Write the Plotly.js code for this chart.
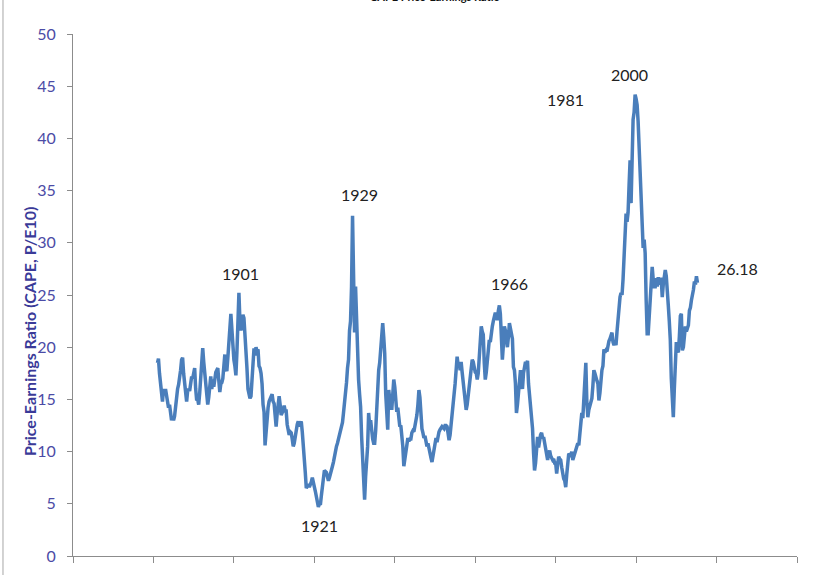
<!DOCTYPE html>
<html>
<head>
<meta charset="utf-8">
<script src="https://cdn.plot.ly/plotly-3.0.1.min.js"></script>
<style>
html,body{margin:0;padding:0;background:#fff;}
#chart{width:825px;height:575px;}
</style>
</head>
<body>
<div id="chart"></div>
<script>
// Shiller CAPE, quarterly readings (Jan, Apr, Jul, Oct) starting 1881
const startYear = 1881;
const stepYears = 0.25;

const cape1881_1900 = [
  18.5, 18.9, 17.5, 16.5,
  15.5, 14.8, 16.0, 15.4,
  16.0, 15.2, 14.6, 14.2,
  14.5, 13.2, 13.0, 13.3,
  13.0, 13.4, 14.6, 15.6,
  16.0, 16.4, 17.0, 17.8,
  18.8, 19.0, 17.5, 16.3,
  15.5, 14.8, 15.8, 16.0,
  15.8, 16.4, 17.2, 17.0,
  17.6, 18.0, 16.0, 14.9,
  15.0, 14.5, 15.6, 16.8,
  18.5, 19.9, 18.6, 17.4,
  17.0, 15.5, 14.5, 15.2,
  16.3, 17.2, 16.0, 16.9,
  16.2, 17.0, 17.6, 17.8,
  18.0, 16.8, 15.7, 16.5,
  16.6, 17.0, 18.4, 19.3,
  18.0, 17.7, 19.0, 20.0,
  21.8, 23.2, 21.5, 20.8,
  18.8, 18.2, 17.3, 19.5
];
const cape1901_1920 = [
  22.0, 25.2, 22.5, 21.6,
  22.5, 23.1, 22.8, 21.5,
  20.2, 18.0, 16.0, 15.4,
  15.1, 15.3, 16.5, 18.5,
  19.9, 19.2, 20.0, 19.6,
  19.8, 18.2, 18.0, 17.5,
  16.5, 14.5, 13.8, 10.6,
  11.8, 13.5, 14.2, 14.8,
  15.0, 15.3, 15.5, 14.8,
  14.6, 13.5, 12.4, 13.6,
  14.2, 15.3, 14.5, 13.5,
  13.7, 14.2, 14.4, 13.9,
  13.9, 12.6, 12.2, 11.6,
  11.9, 11.8, 11.2, 10.5,
  10.8, 11.6, 12.2, 12.6,
  12.9, 12.4, 12.6, 12.9,
  11.9, 10.8, 9.5, 8.0,
  6.5, 6.7, 6.9, 6.6,
  6.8, 7.1, 7.5, 6.9,
  6.6, 6.2, 5.7, 5.3
];
const cape1921_1940 = [
  4.7, 5.0, 4.9, 5.8,
  6.7, 7.6, 8.2, 8.1,
  8.0, 7.6, 7.2, 7.5,
  7.8, 8.2, 8.6, 9.0,
  9.6, 10.1, 10.5, 10.8,
  11.2, 11.4, 11.8, 12.5,
  12.8, 13.7, 14.5, 15.5,
  16.6, 18.0, 18.8, 21.6,
  22.5, 25.8, 32.6, 27.0,
  21.4, 25.8, 22.0, 18.5,
  16.9, 15.5, 14.3, 11.5,
  9.2, 7.9, 5.4, 7.6,
  8.7, 10.5, 13.7, 12.5,
  13.0, 11.8, 11.2, 10.8,
  10.8, 12.0, 14.5, 16.5,
  17.8, 18.5, 19.5, 21.0,
  22.3, 21.0, 19.4, 15.5,
  13.5, 12.1, 15.9, 15.0,
  15.2, 14.0, 15.5, 16.9,
  16.2, 14.3, 13.8, 14.2
];
const cape1941_1960 = [
  13.2, 12.4, 12.5, 11.5,
  10.5, 8.6, 9.5, 10.0,
  10.6, 11.3, 11.0, 11.2,
  11.2, 11.8, 12.0, 11.9,
  12.4, 13.0, 13.5, 14.5,
  15.9, 15.2, 13.3, 12.2,
  11.8, 11.3, 11.5, 11.0,
  10.5, 10.8, 10.2, 9.8,
  9.4, 9.0, 9.5, 10.3,
  10.8, 11.3, 10.9, 11.6,
  11.9, 12.1, 12.3, 12.4,
  12.3, 12.2, 12.5, 12.5,
  12.4, 11.8, 11.1, 11.6,
  12.5, 13.5, 14.6, 15.6,
  16.5, 17.8, 19.1, 18.3,
  18.5, 17.8, 18.6, 17.6,
  16.5, 15.8, 14.3, 14.0,
  14.5, 15.4, 16.2, 17.3,
  18.1, 18.8, 18.6, 17.8,
  17.6, 17.5, 16.9, 17.5
];
const cape1961_1980 = [
  19.5, 21.0, 22.0, 21.5,
  21.2, 18.5, 16.9, 17.6,
  18.6, 19.8, 20.7, 20.5,
  21.5, 22.0, 22.5, 22.9,
  23.3, 23.0, 22.6, 23.5,
  24.0, 23.2, 20.5, 18.8,
  20.2, 22.0, 21.6, 20.5,
  20.0, 21.0, 22.3, 21.8,
  21.0, 20.8, 18.1, 17.8,
  16.5, 13.7, 14.5, 15.4,
  17.0, 17.8, 16.9, 16.0,
  17.5, 18.2, 18.6, 18.3,
  18.7, 16.5, 15.6, 14.5,
  13.5, 12.2, 9.9, 8.2,
  8.9, 10.5, 11.4, 10.4,
  11.2, 11.6, 11.8, 11.3,
  11.4, 10.8, 10.5, 9.8,
  9.2, 9.8, 10.1, 9.6,
  9.3, 9.2, 9.3, 8.9,
  8.9, 7.9, 8.8, 9.5
];
const cape1981_2000 = [
  9.3, 9.2, 8.5, 7.8,
  7.4, 7.2, 6.6, 7.8,
  8.8, 9.8, 9.7, 9.5,
  10.0, 9.2, 9.5, 9.8,
  10.0, 10.3, 10.8, 10.6,
  11.7, 13.0, 13.7, 13.2,
  14.9, 16.5, 18.5, 14.8,
  13.3, 14.0, 14.3, 14.6,
  15.1, 16.3, 17.8, 17.5,
  17.0, 16.8, 16.5, 14.9,
  15.6, 17.5, 17.8, 18.2,
  19.8, 19.5, 19.7, 19.6,
  20.3, 20.6, 20.8, 21.3,
  21.4, 20.5, 20.2, 20.5,
  20.2, 21.5, 23.0, 24.0,
  24.8, 25.2, 25.0, 26.5,
  28.3, 29.6, 32.8, 32.0,
  32.9, 35.5, 37.9, 33.8,
  40.6, 41.8, 42.5, 44.2,
  43.8, 43.2, 41.6, 39.4
];
const cape2001_2015 = [
  36.9, 33.5, 32.0, 29.5,
  30.3, 29.0, 24.5, 21.3,
  21.3, 23.0, 24.5, 25.8,
  27.7, 26.5, 25.8, 25.8,
  26.6, 25.8, 26.7, 26.0,
  26.5, 26.5, 24.8, 26.0,
  27.2, 27.4, 26.8, 25.8,
  24.0, 22.5, 20.7, 17.0,
  15.2, 13.3, 16.0, 19.0,
  20.5, 19.7, 19.5, 21.0,
  23.0, 23.2, 19.7, 20.0,
  21.2, 22.0, 21.5, 21.8,
  22.1, 23.5, 23.8, 24.5,
  24.9, 25.5, 26.3, 26.0,
  26.8, 26.18
];

const capeValues = [].concat(cape1881_1900, cape1901_1920, cape1921_1940,
  cape1941_1960, cape1961_1980, cape1981_2000, cape2001_2015);
const capeYears = capeValues.map((v, i) => startYear + i * stepYears);

const peakLabels = ['1901', '1921', '1929', '1966', '1981', '2000', '26.18'];
const yTickVals = [0, 5, 10, 15, 20, 25, 30, 35, 40, 45, 50];
const xTickVals = [1860, 1880, 1900, 1920, 1940, 1960, 1980, 2000, 2020, 2040];

const labelPos = [
  [1901.7, 27.1], [1921.4, 2.9], [1931.2, 34.6], [1968.5, 26.1],
  [1982.4, 43.7], [1998.4, 46.1], [2025.1, 27.5]
];

const annotations = peakLabels.map((t, i) => ({
  x: labelPos[i][0], y: labelPos[i][1], xref: 'x', yref: 'y',
  text: t, showarrow: false,
  font: {family: 'Lato, "Noto Sans", sans-serif', size: 16, color: '#222222'}
}));
annotations.push({
  xref: 'paper', yref: 'paper', x: -0.076, y: 0.43,
  text: 'Price-Earnings Ratio (CAPE, P/E10)', textangle: -90, showarrow: false,
  font: {family: 'Lato, "Noto Sans", sans-serif', size: 16, color: '#3a3a98', weight: 'bold'}
});
annotations.push({
  xref: 'paper', yref: 'paper', x: 0.5, y: 1.072, yanchor: 'middle',
  text: '<b>CAPE Price-Earnings Ratio</b>', showarrow: false,
  font: {family: 'Lato, "Noto Sans", sans-serif', size: 11, color: '#111111'}
});

const trace = {
  x: capeYears, y: capeValues, type: 'scatter', mode: 'lines',
  line: {color: '#4a7ebb', width: 3.5}, hoverinfo: 'x+y'
};

const layout = {
  width: 825, height: 575,
  margin: {l: 73, r: 28, t: 34, b: 19},
  paper_bgcolor: '#ffffff', plot_bgcolor: '#ffffff',
  showlegend: false,
  xaxis: {
    range: [1860, 2040], tickvals: xTickVals, showticklabels: false,
    showgrid: false, zeroline: false, showline: true, linecolor: '#8c8c8c', linewidth: 1,
    ticks: 'outside', ticklen: 6, tickcolor: '#8c8c8c', fixedrange: true
  },
  yaxis: {
    range: [0, 50], tickvals: yTickVals,
    showgrid: false, zeroline: false, showline: true, linecolor: '#8c8c8c', linewidth: 1,
    ticks: 'outside', ticklen: 5, tickcolor: '#8c8c8c', ticklabelstandoff: 8,
    tickfont: {family: 'Lato, "Noto Sans", sans-serif', size: 16, color: '#4b4ba6'},
    fixedrange: true
  },
  annotations: annotations,
  shapes: [{
    type: 'line', xref: 'paper', yref: 'paper',
    x0: -0.0967, x1: -0.0967, y0: -0.05, y1: 1.08,
    line: {color: '#a6a6a6', width: 1}
  }]
};

Plotly.newPlot('chart', [trace], layout, {displayModeBar: false, staticPlot: true});
</script>
</body>
</html>
